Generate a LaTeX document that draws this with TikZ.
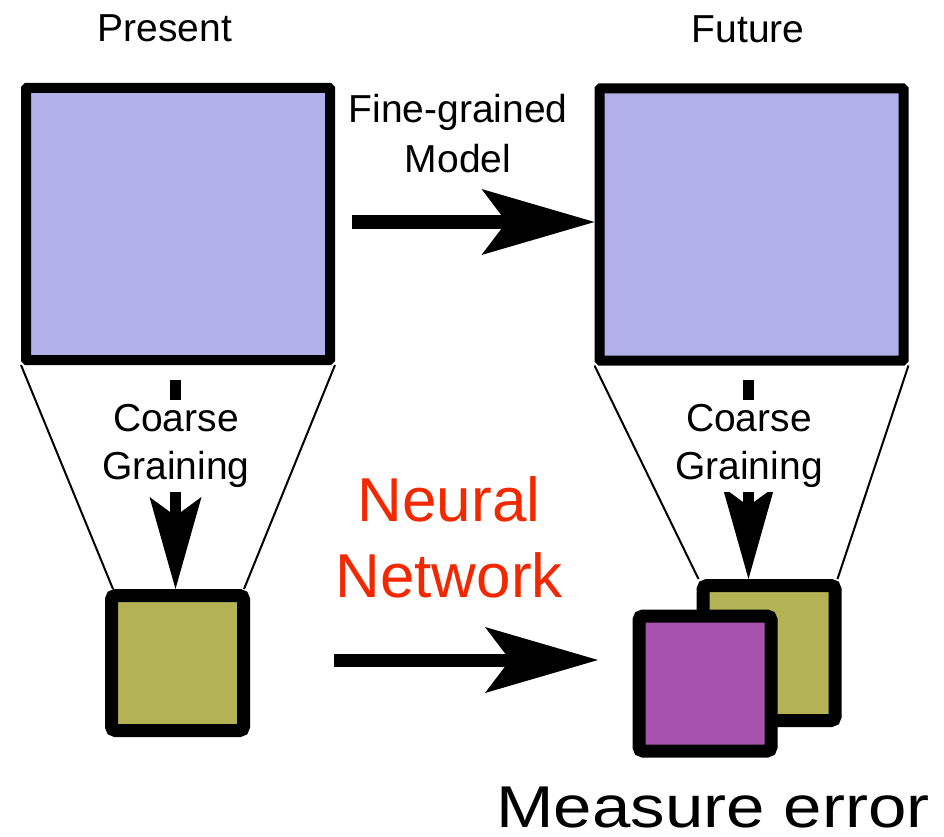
\documentclass[tikz,border=0pt]{standalone}
\usepackage{fontspec}
\setmainfont{Liberation Sans}
\usetikzlibrary{arrows.meta}

\definecolor{boxblue}{RGB}{177,177,234}
\definecolor{coarseolive}{RGB}{179,179,85}
\definecolor{predpurple}{RGB}{166,82,174}
\definecolor{nnred}{RGB}{242,40,0}

\tikzset{
	bigbox/.style={draw, line width=10pt, fill=boxblue, minimum width=304pt, minimum height=272pt, inner sep=0pt, rounded corners=1pt},
	smallbox/.style={draw, line width=13pt, minimum width=132pt, minimum height=135pt, inner sep=0pt, rounded corners=4pt},
	txt/.style={font=\fontsize{39}{48}\selectfont, align=center, inner sep=0pt},
	fatarrow/.style={line width=14pt, -{Stealth[length=113pt, width=66pt, inset=25pt, line width=0pt]}},
	cgarrow/.style={line width=11pt, -{Stealth[length=92pt, width=52pt, inset=19pt, line width=0pt]}},
	funnel/.style={line width=2pt}
}

\begin{document}
\begin{tikzpicture}[x=1pt, y=-1pt]
	\useasboundingbox (0,0) rectangle (944,837);

	\node[txt, anchor=base] (ptitle) at (165,42) {Present};
	\node[txt, anchor=base] (ftitle) at (748,43) {Future};

	\node[bigbox] (present) at (178,224) {};
	\node[bigbox] (future) at (751.5,224.5) {};

	\node[smallbox, fill=coarseolive] (pcoarse) at (177.5,663) {};
	\node[smallbox, fill=coarseolive] (fcoarse) at (769,653) {};

	\draw[funnel] (present.south west) -- ([xshift=8pt]pcoarse.north west);
	\draw[funnel] (present.south east) -- ([xshift=-6pt]pcoarse.north east);
	\draw[funnel] (future.south west) -- ([xshift=2pt]fcoarse.north west);
	\draw[funnel] (future.south east) -- ([xshift=-4pt]fcoarse.north east);

	\coordinate (pcg) at (175.5,380);
	\coordinate (fcg) at (748.5,380);
	\draw[cgarrow] (pcg) -- (pcg |- pcoarse.north);
	\draw[cgarrow] (fcg) -- (fcg |- fcoarse.north);
	\node[txt, fill=white, inner xsep=6pt, inner ysep=4pt] (pgrain) at (176,446) {Coarse\\Graining};
	\node[txt, fill=white, inner xsep=6pt, inner ysep=4pt] (fgrain) at (749,446) {Coarse\\Graining};

	\node[smallbox, fill=predpurple] (fpred) at (705,683.5) {};

	\coordinate (fgs) at (352,222);
	\draw[fatarrow] (fgs) -- (fgs -| future.west);
	\node[txt, font=\fontsize{39}{50}\selectfont] (fgmodel) at (458,134) {Fine-grained\\Model};

	\coordinate (nns) at (334,660);
	\coordinate (nne) at (598,660);
	\draw[fatarrow, line width=13pt] (nns) -- (nne);
	\node[txt, text=nnred, font=\fontsize{62}{76}\selectfont] (nnet) at (449,537) {Neural\\Network};

	\node[txt, anchor=base, font=\fontsize{59}{70}\selectfont] (merror) at (713,827) {\scalebox{1.17}[1]{Measure error}};
\end{tikzpicture}
\end{document}
